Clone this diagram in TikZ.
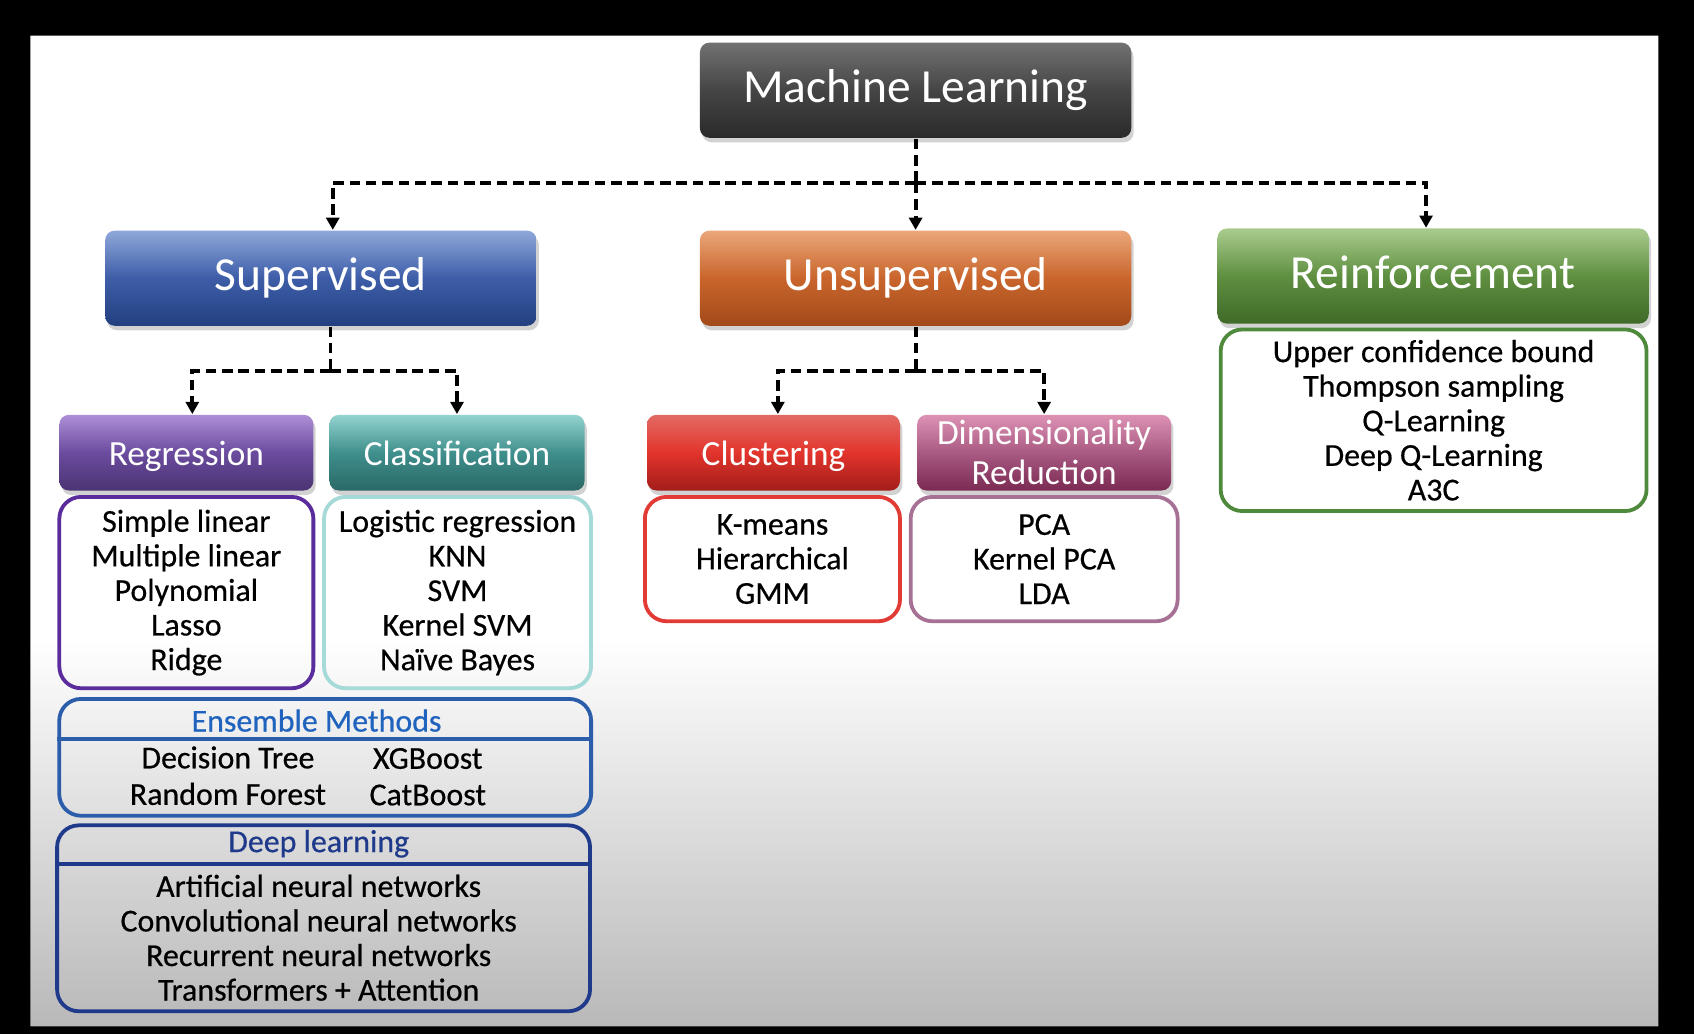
\documentclass[tikz,border=0pt]{standalone}
\usepackage{fontspec}
\setmainfont{Carlito}
\newfontfamily\itemfont{Carlito}[FakeBold=0.5]
\usetikzlibrary{arrows.meta,shadows}

\definecolor{mlTop}{HTML}{727272}
\definecolor{mlMid}{HTML}{454545}
\definecolor{mlBot}{HTML}{2A2A2A}
\definecolor{supTop}{HTML}{8FA8DA}
\definecolor{supMid}{HTML}{3D5DA8}
\definecolor{supBot}{HTML}{22407F}
\definecolor{unsTop}{HTML}{EBA77A}
\definecolor{unsMid}{HTML}{C9652C}
\definecolor{unsBot}{HTML}{A24A1A}
\definecolor{reiTop}{HTML}{A9CC8E}
\definecolor{reiMid}{HTML}{5F8F40}
\definecolor{reiBot}{HTML}{3F6A28}
\definecolor{regTop}{HTML}{AE8FD6}
\definecolor{regMid}{HTML}{6B4B9E}
\definecolor{regBot}{HTML}{4A3473}
\definecolor{clsTop}{HTML}{93D3CF}
\definecolor{clsMid}{HTML}{3F8F8C}
\definecolor{clsBot}{HTML}{2A6867}
\definecolor{cluTop}{HTML}{E36A64}
\definecolor{cluMid}{HTML}{E2342C}
\definecolor{cluBot}{HTML}{A21D19}
\definecolor{dimTop}{HTML}{DD92B4}
\definecolor{dimMid}{HTML}{A95A82}
\definecolor{dimBot}{HTML}{7B2A52}
\definecolor{regLine}{HTML}{5B2C9C}
\definecolor{clsLine}{HTML}{A5DAD8}
\definecolor{cluLine}{HTML}{E23B35}
\definecolor{dimLine}{HTML}{A77196}
\definecolor{reiLine}{HTML}{4F8A3C}
\definecolor{ensLine}{HTML}{2C5DAA}
\definecolor{ensText}{HTML}{1F63BE}
\definecolor{deepLine}{HTML}{1F3A8A}
\definecolor{bgBot}{HTML}{B7B7B7}

\begin{document}
\begin{tikzpicture}[x=0.01cm, y=-0.01cm,
    box/.style={rounded corners=2.5pt, text=white, inner sep=0pt, align=center,
        text height=0.8em, text depth=0.13em,
        drop shadow={shadow xshift=0.6pt, shadow yshift=-1.2pt, opacity=0.35}},
    big/.style={box, minimum width=3.99cm, minimum height=0.88cm, font=\fontsize{12.5}{14}\selectfont},
    small/.style={box, minimum width=2.35cm, minimum height=0.7cm, font=\fontsize{9.3}{10.5}\selectfont},
    grad/.style n args={3}{top color=#1, bottom color=#3, middle color=#2},
    lbox/.style={draw=#1, line width=1pt, rounded corners=0.2cm, inner sep=0pt, align=center,
        font=\itemfont\fontsize{8.4}{9.1}\selectfont},
    txt/.style={inner sep=0pt, align=center, font=\itemfont\fontsize{8.4}{9.1}\selectfont},
    dl/.style={line width=1pt, dash pattern=on 2.8pt off 1.5pt},
    arr/.style={dl, -{Triangle[length=3.2pt, width=3.4pt]}}]
    % slide
    \fill[white] (28,33) rectangle (1535,597);
    \shade[top color=white, bottom color=bgBot] (20,590) rectangle (1545,957);
    \fill[black, even odd rule] (0,0) rectangle (1568,957) (28,33) rectangle (1535,950);
    % top levels
    \node[big, grad={mlTop}{mlMid}{mlBot}] (ml) at (847.5,83.5) {Machine Learning};
    \node[big, grad={supTop}{supMid}{supBot}] (sup) at (297,257.5) {Supervised};
    \node[big, grad={unsTop}{unsMid}{unsBot}] (uns) at (847.5,257.5) {Unsupervised};
    \node[big, grad={reiTop}{reiMid}{reiBot}] (rei) at (1326.5,255.5) {Reinforcement};
    \node[small, grad={regTop}{regMid}{regBot}] (reg) at (172.5,419) {Regression};
    \node[small, grad={clsTop}{clsMid}{clsBot}, minimum width=2.36cm] (cls) at (423,419) {Classification};
    \node[small, grad={cluTop}{cluMid}{cluBot}, minimum width=2.34cm] (clu) at (716,419) {Clustering};
    \node[small, grad={dimTop}{dimMid}{dimBot}, text height=, text depth=] (dim) at (966.5,419) {Dimensionality\\Reduction};
    % lists
    \node[lbox=regLine, minimum width=2.35cm, minimum height=1.77cm] (regl) at (172.5,548.5)
        {Simple linear\\Multiple linear\\Polynomial\\Lasso\\Ridge};
    \node[lbox=clsLine, minimum width=2.47cm, minimum height=1.77cm] (clsl) at (423.5,548.5)
        {Logistic regression\\KNN\\SVM\\Kernel SVM\\Naïve Bayes};
    \node[lbox=cluLine, minimum width=2.36cm, minimum height=1.15cm] (clul) at (715,517.5)
        {K-means\\Hierarchical\\GMM};
    \node[lbox=dimLine, minimum width=2.47cm, minimum height=1.15cm] (diml) at (966.5,517.5)
        {PCA\\Kernel PCA\\LDA};
    \node[lbox=reiLine, minimum width=3.94cm, minimum height=1.68cm] (reil) at (1327,389)
        {Upper confidence bound\\Thompson sampling\\Q-Learning\\Deep Q-Learning\\A3C};
    % ensemble
    \node[lbox=ensLine, minimum width=4.92cm, minimum height=1.08cm] (ens) at (301,701) {};
    \node[txt, text=ensText] (ensh) at (293,667) {Ensemble Methods};
    \draw[ensLine, line width=1pt] (ens.west |- 0,684) -- (ens.east |- 0,684);
    \node[txt, font=\itemfont\fontsize{8.4}{9.6}\selectfont] (ensa) at (211,718) {Decision Tree\\Random Forest};
    \node[txt, font=\itemfont\fontsize{8.4}{9.6}\selectfont] (ensb) at (396,719) {XGBoost\\CatBoost};
    % deep learning
    \node[lbox=deepLine, minimum width=4.93cm, minimum height=1.72cm] (deep) at (299.5,850) {};
    \node[txt, text=deepLine] (deeph) at (295,781) {Deep learning};
    \draw[deepLine, line width=1pt] (deep.west |- 0,800) -- (deep.east |- 0,800);
    \node[txt] (deepb) at (295,868)
        {Artificial neural networks\\Convolutional neural networks\\Recurrent neural networks\\Transformers + Attention};
    % connectors
    \path (ml.south) ++(0,41) coordinate (j1);
    \draw[dl] (ml.south) -- (j1);
    \draw[arr] (j1) -| ([xshift=0.11cm]sup.north);
    \draw[arr] (j1) -- (uns.north);
    \draw[arr] (j1) -| ([xshift=-0.065cm]rei.north);
    \path ([xshift=0.09cm]sup.south) ++(0,41) coordinate (j2);
    \draw[dl] ([xshift=0.09cm]sup.south) -- (j2);
    \draw[arr] (j2) -| ([xshift=0.055cm]reg.north);
    \draw[arr] (j2) -| (cls.north);
    \path (uns.south) ++(0,41) coordinate (j3);
    \draw[dl] (uns.south) -- (j3);
    \draw[arr] (j3) -| ([xshift=0.04cm]clu.north);
    \draw[arr] (j3) -| (dim.north);
\end{tikzpicture}
\end{document}
